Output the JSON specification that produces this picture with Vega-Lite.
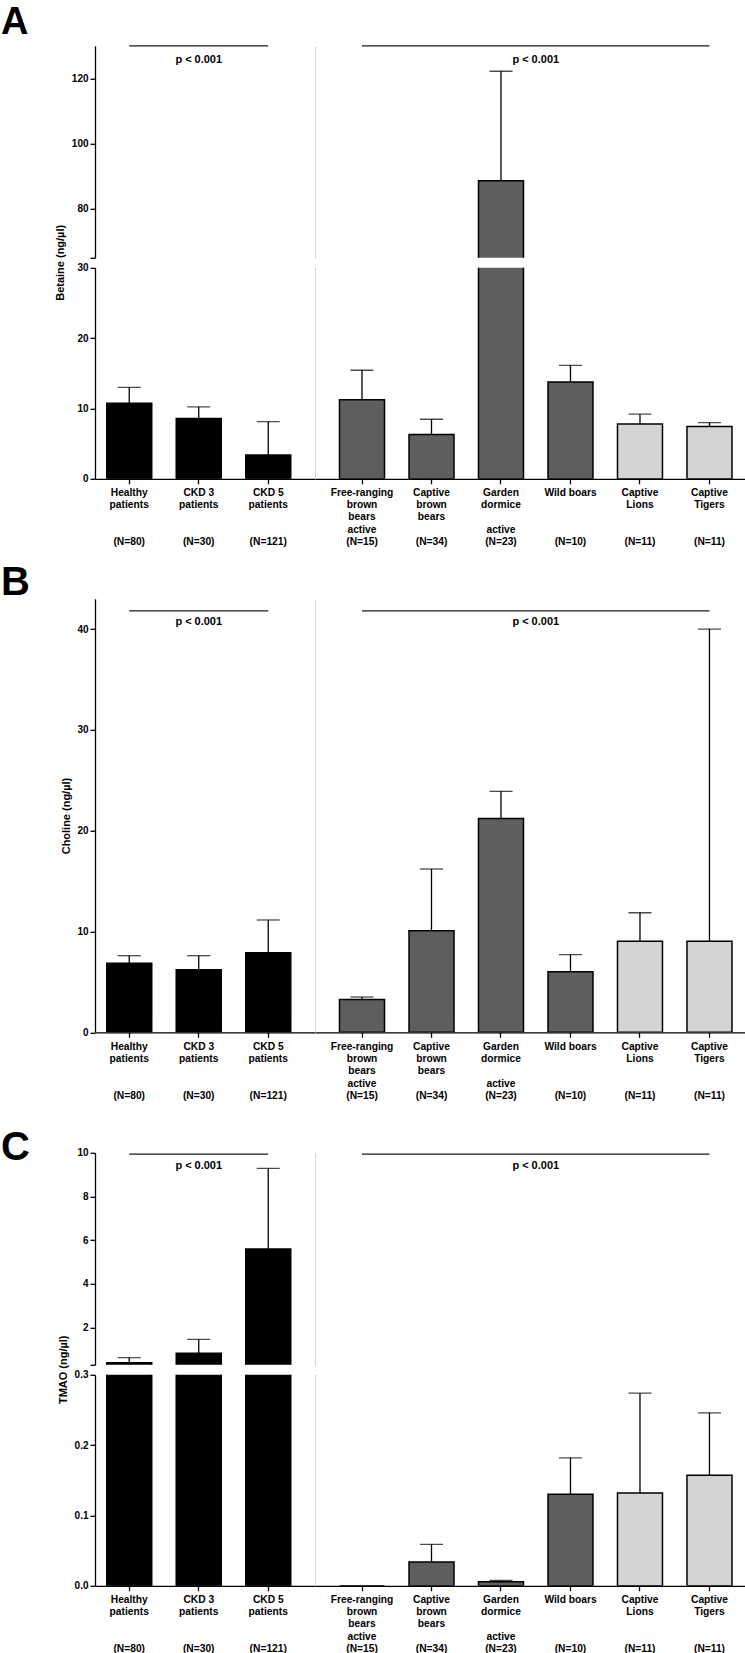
{
"$schema":"https://vega.github.io/schema/vega-lite/v6.json",
"padding":{"left":1,"top":3.8,"right":0,"bottom":0},
"background":"white",
"config":{"view":{"stroke":null},"font":"Liberation Sans",
 "axis":{"labelFont":"Liberation Sans","labelFontWeight":"bold","labelFontSize":10,"labelColor":"black","titleFont":"Liberation Sans","titleFontWeight":"bold","titleFontSize":11,"titleColor":"black","domainColor":"black","domainWidth":1.3,"tickColor":"black","tickWidth":1.3,"tickSize":5,"labelPadding":2,"grid":false}},
"datasets":{
 "bars":[
  {"panel":"A","side":"L","cat":"Healthy|patients##(N=80)","kind":"human","value":10.75,"upper":13.0},
  {"panel":"A","side":"L","cat":"CKD 3|patients##(N=30)","kind":"human","value":8.57,"upper":10.23},
  {"panel":"A","side":"L","cat":"CKD 5|patients##(N=121)","kind":"human","value":3.37,"upper":8.14},
  {"panel":"A","side":"R","cat":"Free-ranging|brown|bears#active#(N=15)","kind":"animal","value":11.23,"upper":15.43},
  {"panel":"A","side":"R","cat":"Captive|brown|bears##(N=34)","kind":"animal","value":6.29,"upper":8.47},
  {"panel":"A","side":"R","cat":"Garden|dormice#active#(N=23)","kind":"animal","value":88.6,"upper":122.2},
  {"panel":"A","side":"R","cat":"Wild boars##(N=10)","kind":"animal","value":13.76,"upper":16.14},
  {"panel":"A","side":"R","cat":"Captive|Lions##(N=11)","kind":"felid","value":7.8,"upper":9.19},
  {"panel":"A","side":"R","cat":"Captive|Tigers##(N=11)","kind":"felid","value":7.43,"upper":8.0},
  {"panel":"B","side":"L","cat":"Healthy|patients##(N=80)","kind":"human","value":6.85,"upper":7.6},
  {"panel":"B","side":"L","cat":"CKD 3|patients##(N=30)","kind":"human","value":6.2,"upper":7.6},
  {"panel":"B","side":"L","cat":"CKD 5|patients##(N=121)","kind":"human","value":7.9,"upper":11.14},
  {"panel":"B","side":"R","cat":"Free-ranging|brown|bears#active#(N=15)","kind":"animal","value":3.25,"upper":3.5},
  {"panel":"B","side":"R","cat":"Captive|brown|bears##(N=34)","kind":"animal","value":10.08,"upper":16.2},
  {"panel":"B","side":"R","cat":"Garden|dormice#active#(N=23)","kind":"animal","value":21.2,"upper":23.9},
  {"panel":"B","side":"R","cat":"Wild boars##(N=10)","kind":"animal","value":6.0,"upper":7.7},
  {"panel":"B","side":"R","cat":"Captive|Lions##(N=11)","kind":"felid","value":9.03,"upper":11.86},
  {"panel":"B","side":"R","cat":"Captive|Tigers##(N=11)","kind":"felid","value":9.03,"upper":40.0},
  {"panel":"C","side":"L","cat":"Healthy|patients##(N=80)","kind":"human","value":0.39,"upper":0.63},
  {"panel":"C","side":"L","cat":"CKD 3|patients##(N=30)","kind":"human","value":0.83,"upper":1.46},
  {"panel":"C","side":"L","cat":"CKD 5|patients##(N=121)","kind":"human","value":5.6,"upper":9.29},
  {"panel":"C","side":"R","cat":"Free-ranging|brown|bears#active#(N=15)","kind":"animal","value":0,"upper":null},
  {"panel":"C","side":"R","cat":"Captive|brown|bears##(N=34)","kind":"animal","value":0.034,"upper":0.059},
  {"panel":"C","side":"R","cat":"Garden|dormice#active#(N=23)","kind":"animal","value":0.0057,"upper":0.0075},
  {"panel":"C","side":"R","cat":"Wild boars##(N=10)","kind":"animal","value":0.13,"upper":0.182},
  {"panel":"C","side":"R","cat":"Captive|Lions##(N=11)","kind":"felid","value":0.132,"upper":0.274},
  {"panel":"C","side":"R","cat":"Captive|Tigers##(N=11)","kind":"felid","value":0.157,"upper":0.246}
 ],
 "ann":[
  {"panel":"A","side":"L","from":"Healthy|patients##(N=80)","to":"CKD 5|patients##(N=121)","mid":"CKD 3|patients##(N=30)","ly":130,"ty":125.7,"label":"p < 0.001"},
  {"panel":"A","side":"R","from":"Free-ranging|brown|bears#active#(N=15)","to":"Captive|Tigers##(N=11)","mid":"Garden|dormice#active#(N=23)","ly":130,"ty":125.7,"label":"p < 0.001"},
  {"panel":"B","side":"L","from":"Healthy|patients##(N=80)","to":"CKD 5|patients##(N=121)","mid":"CKD 3|patients##(N=30)","ly":41.8,"ty":40.7,"label":"p < 0.001"},
  {"panel":"B","side":"R","from":"Free-ranging|brown|bears#active#(N=15)","to":"Captive|Tigers##(N=11)","mid":"Garden|dormice#active#(N=23)","ly":41.8,"ty":40.7,"label":"p < 0.001"},
  {"panel":"C","side":"L","from":"Healthy|patients##(N=80)","to":"CKD 5|patients##(N=121)","mid":"CKD 3|patients##(N=30)","ly":9.94,"ty":9.4,"label":"p < 0.001"},
  {"panel":"C","side":"R","from":"Free-ranging|brown|bears#active#(N=15)","to":"Captive|Tigers##(N=11)","mid":"Garden|dormice#active#(N=23)","ly":9.94,"ty":9.4,"label":"p < 0.001"}
 ]
},
"spacing":15,
"vconcat":[
 {"concat":[
  {"width":220,"height":212,
   "title":{"text":"A","anchor":"start","frame":"group","dx":-94,"offset":-27,"fontSize":38,"fontWeight":"bold","font":"Liberation Sans","color":"black","baseline":"alphabetic"},
   "resolve":{"axis":{"x":"independent","y":"independent"}},
   "layer":[
    {"data":{"name":"bars"},"transform":[{"filter":"datum.panel == 'A' && datum.side == 'L'"}],
     "mark":{"type":"bar","clip":true,"stroke":"black","strokeWidth":1.5},
     "encoding":{"x":{"field":"cat","type":"nominal","scale":{"domain":["Healthy|patients##(N=80)","CKD 3|patients##(N=30)","CKD 5|patients##(N=121)"],"paddingInner":0.3525,"paddingOuter":0.259,"align":0.326},"axis":null},
      "y":{"field":"value","type":"quantitative","scale":{"domain":[65,130],"nice":false,"zero":false},"axis":{"values":[65,80,100,120],"labelExpr":"datum.value == 65 ? '' : datum.label","title":"Betaine (ng/µl)","titleX":-34.5,"titleY":216.5,"titleAngle":-90,"titleAlign":"center","titleBaseline":"middle"}},
      "y2":{"datum":0},
      "color":{"field":"kind","type":"nominal","scale":{"domain":["human","animal","felid"],"range":["#000000","#5e5e5e","#d4d4d4"]},"legend":null}}},
    {"data":{"name":"bars"},"transform":[{"filter":"datum.panel == 'A' && datum.side == 'L' && isValid(datum.upper)"}],
     "mark":{"type":"rule","clip":true,"color":"black","strokeWidth":1.3},
     "encoding":{"x":{"field":"cat","type":"nominal","scale":{"domain":["Healthy|patients##(N=80)","CKD 3|patients##(N=30)","CKD 5|patients##(N=121)"],"paddingInner":0.3525,"paddingOuter":0.259,"align":0.326},"axis":null},
      "y":{"field":"value","type":"quantitative","scale":{"domain":[65,130],"nice":false,"zero":false},"axis":null},"y2":{"field":"upper"}}},
    {"data":{"name":"bars"},"transform":[{"filter":"datum.panel == 'A' && datum.side == 'L' && isValid(datum.upper)"}],
     "mark":{"type":"tick","clip":true,"color":"black","size":23,"thickness":1.3},
     "encoding":{"x":{"field":"cat","type":"nominal","scale":{"domain":["Healthy|patients##(N=80)","CKD 3|patients##(N=30)","CKD 5|patients##(N=121)"],"paddingInner":0.3525,"paddingOuter":0.259,"align":0.326},"axis":null},
      "y":{"field":"upper","type":"quantitative","scale":{"domain":[65,130],"nice":false,"zero":false},"axis":null}}},
    {"data":{"name":"ann"},"transform":[{"filter":"datum.panel == 'A' && datum.side == 'L'"}],
     "mark":{"type":"rule","color":"#1a1a1a","strokeWidth":1.3},
     "encoding":{"x":{"field":"from","type":"nominal","scale":{"domain":["Healthy|patients##(N=80)","CKD 3|patients##(N=30)","CKD 5|patients##(N=121)"],"paddingInner":0.3525,"paddingOuter":0.259,"align":0.326},"axis":null},"x2":{"field":"to"},
      "y":{"field":"ly","type":"quantitative","scale":{"domain":[65,130],"nice":false,"zero":false},"axis":null}}},
    {"data":{"name":"ann"},"transform":[{"filter":"datum.panel == 'A' && datum.side == 'L'"}],
     "mark":{"type":"text","font":"Liberation Sans","fontWeight":"bold","fontSize":11,"baseline":"middle","align":"center","color":"black"},
     "encoding":{"x":{"field":"mid","type":"nominal","scale":{"domain":["Healthy|patients##(N=80)","CKD 3|patients##(N=30)","CKD 5|patients##(N=121)"],"paddingInner":0.3525,"paddingOuter":0.259,"align":0.326},"axis":null},
      "y":{"field":"ty","type":"quantitative","scale":{"domain":[65,130],"nice":false,"zero":false},"axis":null},"text":{"field":"label"}}}
   ]},
  {"width":430,"height":212,
   "resolve":{"axis":{"x":"independent","y":"independent"}},
   "layer":[
    {"data":{"name":"bars"},"transform":[{"filter":"datum.panel == 'A' && datum.side == 'R'"}],
     "mark":{"type":"bar","clip":true,"stroke":"black","strokeWidth":1.5},
     "encoding":{"x":{"field":"cat","type":"nominal","scale":{"domain":["Free-ranging|brown|bears#active#(N=15)","Captive|brown|bears##(N=34)","Garden|dormice#active#(N=23)","Wild boars##(N=10)","Captive|Lions##(N=11)","Captive|Tigers##(N=11)"],"paddingInner":0.3525,"paddingOuter":0.27,"align":0.653},"axis":null},
      "y":{"field":"value","type":"quantitative","scale":{"domain":[65,130],"nice":false,"zero":false},"axis":{"domainColor":"#a8a8a8","domainDash":[1,1],"domainWidth":1,"ticks":false,"labels":false,"title":null}},
      "y2":{"datum":0},
      "color":{"field":"kind","type":"nominal","scale":{"domain":["human","animal","felid"],"range":["#000000","#5e5e5e","#d4d4d4"]},"legend":null}}},
    {"data":{"name":"bars"},"transform":[{"filter":"datum.panel == 'A' && datum.side == 'R' && isValid(datum.upper)"}],
     "mark":{"type":"rule","clip":true,"color":"black","strokeWidth":1.3},
     "encoding":{"x":{"field":"cat","type":"nominal","scale":{"domain":["Free-ranging|brown|bears#active#(N=15)","Captive|brown|bears##(N=34)","Garden|dormice#active#(N=23)","Wild boars##(N=10)","Captive|Lions##(N=11)","Captive|Tigers##(N=11)"],"paddingInner":0.3525,"paddingOuter":0.27,"align":0.653},"axis":null},
      "y":{"field":"value","type":"quantitative","scale":{"domain":[65,130],"nice":false,"zero":false},"axis":null},"y2":{"field":"upper"}}},
    {"data":{"name":"bars"},"transform":[{"filter":"datum.panel == 'A' && datum.side == 'R' && isValid(datum.upper)"}],
     "mark":{"type":"tick","clip":true,"color":"black","size":23,"thickness":1.3},
     "encoding":{"x":{"field":"cat","type":"nominal","scale":{"domain":["Free-ranging|brown|bears#active#(N=15)","Captive|brown|bears##(N=34)","Garden|dormice#active#(N=23)","Wild boars##(N=10)","Captive|Lions##(N=11)","Captive|Tigers##(N=11)"],"paddingInner":0.3525,"paddingOuter":0.27,"align":0.653},"axis":null},
      "y":{"field":"upper","type":"quantitative","scale":{"domain":[65,130],"nice":false,"zero":false},"axis":null}}},
    {"data":{"name":"ann"},"transform":[{"filter":"datum.panel == 'A' && datum.side == 'R'"}],
     "mark":{"type":"rule","color":"#1a1a1a","strokeWidth":1.3},
     "encoding":{"x":{"field":"from","type":"nominal","scale":{"domain":["Free-ranging|brown|bears#active#(N=15)","Captive|brown|bears##(N=34)","Garden|dormice#active#(N=23)","Wild boars##(N=10)","Captive|Lions##(N=11)","Captive|Tigers##(N=11)"],"paddingInner":0.3525,"paddingOuter":0.27,"align":0.653},"axis":null},"x2":{"field":"to"},
      "y":{"field":"ly","type":"quantitative","scale":{"domain":[65,130],"nice":false,"zero":false},"axis":null}}},
    {"data":{"name":"ann"},"transform":[{"filter":"datum.panel == 'A' && datum.side == 'R'"}],
     "mark":{"type":"text","font":"Liberation Sans","fontWeight":"bold","fontSize":11,"baseline":"middle","align":"center","color":"black","dx":34.75},
     "encoding":{"x":{"field":"mid","type":"nominal","scale":{"domain":["Free-ranging|brown|bears#active#(N=15)","Captive|brown|bears##(N=34)","Garden|dormice#active#(N=23)","Wild boars##(N=10)","Captive|Lions##(N=11)","Captive|Tigers##(N=11)"],"paddingInner":0.3525,"paddingOuter":0.27,"align":0.653},"axis":null},
      "y":{"field":"ty","type":"quantitative","scale":{"domain":[65,130],"nice":false,"zero":false},"axis":null},"text":{"field":"label"}}}
   ]},
  {"width":220,"height":211,
   "resolve":{"axis":{"x":"independent","y":"independent"}},
   "layer":[
    {"data":{"name":"bars"},"transform":[{"filter":"datum.panel == 'A' && datum.side == 'L'"}],
     "mark":{"type":"bar","clip":true,"stroke":"black","strokeWidth":1.5},
     "encoding":{"x":{"field":"cat","type":"nominal","scale":{"domain":["Healthy|patients##(N=80)","CKD 3|patients##(N=30)","CKD 5|patients##(N=121)"],"paddingInner":0.3525,"paddingOuter":0.259,"align":0.326},"axis":{"title":null,"labelExpr":"split(split(datum.label, '#')[0], '|')","labelAngle":0,"labelFontSize":10.25,"labelLineHeight":12,"labelPadding":4,"labelBaseline":"top","labelAlign":"center","labelLimit":0,"tickSize":5}},
      "y":{"field":"value","type":"quantitative","scale":{"domain":[0,30],"nice":false,"zero":false},"axis":{"values":[0,10,20,30],"format":"d","title":null}},
      "y2":{"datum":0},
      "color":{"field":"kind","type":"nominal","scale":{"domain":["human","animal","felid"],"range":["#000000","#5e5e5e","#d4d4d4"]},"legend":null}}},
    {"data":{"name":"bars"},"transform":[{"filter":"datum.panel == 'A' && datum.side == 'L' && isValid(datum.upper)"}],
     "mark":{"type":"rule","clip":true,"color":"black","strokeWidth":1.3},
     "encoding":{"x":{"field":"cat","type":"nominal","scale":{"domain":["Healthy|patients##(N=80)","CKD 3|patients##(N=30)","CKD 5|patients##(N=121)"],"paddingInner":0.3525,"paddingOuter":0.259,"align":0.326},"axis":{"orient":"bottom","domain":false,"ticks":false,"title":null,"labelExpr":"split(datum.label, '#')[1]","labelAngle":0,"labelFontSize":10.25,"labelPadding":46,"labelBaseline":"top","labelAlign":"center","labelLimit":0}},
      "y":{"field":"value","type":"quantitative","scale":{"domain":[0,30],"nice":false,"zero":false},"axis":null},"y2":{"field":"upper"}}},
    {"data":{"name":"bars"},"transform":[{"filter":"datum.panel == 'A' && datum.side == 'L' && isValid(datum.upper)"}],
     "mark":{"type":"tick","clip":true,"color":"black","size":23,"thickness":1.3},
     "encoding":{"x":{"field":"cat","type":"nominal","scale":{"domain":["Healthy|patients##(N=80)","CKD 3|patients##(N=30)","CKD 5|patients##(N=121)"],"paddingInner":0.3525,"paddingOuter":0.259,"align":0.326},"axis":{"orient":"bottom","domain":false,"ticks":false,"title":null,"labelExpr":"split(datum.label, '#')[2]","labelAngle":0,"labelFontSize":10.25,"labelPadding":58,"labelBaseline":"top","labelAlign":"center","labelLimit":0}},
      "y":{"field":"upper","type":"quantitative","scale":{"domain":[0,30],"nice":false,"zero":false},"axis":null}}}
   ]},
  {"width":430,"height":211,
   "resolve":{"axis":{"x":"independent","y":"independent"}},
   "layer":[
    {"data":{"name":"bars"},"transform":[{"filter":"datum.panel == 'A' && datum.side == 'R'"}],
     "mark":{"type":"bar","clip":true,"stroke":"black","strokeWidth":1.5},
     "encoding":{"x":{"field":"cat","type":"nominal","scale":{"domain":["Free-ranging|brown|bears#active#(N=15)","Captive|brown|bears##(N=34)","Garden|dormice#active#(N=23)","Wild boars##(N=10)","Captive|Lions##(N=11)","Captive|Tigers##(N=11)"],"paddingInner":0.3525,"paddingOuter":0.27,"align":0.653},"axis":{"title":null,"labelExpr":"split(split(datum.label, '#')[0], '|')","labelAngle":0,"labelFontSize":10.25,"labelLineHeight":12,"labelPadding":4,"labelBaseline":"top","labelAlign":"center","labelLimit":0,"tickSize":5}},
      "y":{"field":"value","type":"quantitative","scale":{"domain":[0,30],"nice":false,"zero":false},"axis":{"domainColor":"#a8a8a8","domainDash":[1,1],"domainWidth":1,"ticks":false,"labels":false,"title":null}},
      "y2":{"datum":0},
      "color":{"field":"kind","type":"nominal","scale":{"domain":["human","animal","felid"],"range":["#000000","#5e5e5e","#d4d4d4"]},"legend":null}}},
    {"data":{"name":"bars"},"transform":[{"filter":"datum.panel == 'A' && datum.side == 'R' && isValid(datum.upper)"}],
     "mark":{"type":"rule","clip":true,"color":"black","strokeWidth":1.3},
     "encoding":{"x":{"field":"cat","type":"nominal","scale":{"domain":["Free-ranging|brown|bears#active#(N=15)","Captive|brown|bears##(N=34)","Garden|dormice#active#(N=23)","Wild boars##(N=10)","Captive|Lions##(N=11)","Captive|Tigers##(N=11)"],"paddingInner":0.3525,"paddingOuter":0.27,"align":0.653},"axis":{"orient":"bottom","domain":false,"ticks":false,"title":null,"labelExpr":"split(datum.label, '#')[1]","labelAngle":0,"labelFontSize":10.25,"labelPadding":46,"labelBaseline":"top","labelAlign":"center","labelLimit":0}},
      "y":{"field":"value","type":"quantitative","scale":{"domain":[0,30],"nice":false,"zero":false},"axis":null},"y2":{"field":"upper"}}},
    {"data":{"name":"bars"},"transform":[{"filter":"datum.panel == 'A' && datum.side == 'R' && isValid(datum.upper)"}],
     "mark":{"type":"tick","clip":true,"color":"black","size":23,"thickness":1.3},
     "encoding":{"x":{"field":"cat","type":"nominal","scale":{"domain":["Free-ranging|brown|bears#active#(N=15)","Captive|brown|bears##(N=34)","Garden|dormice#active#(N=23)","Wild boars##(N=10)","Captive|Lions##(N=11)","Captive|Tigers##(N=11)"],"paddingInner":0.3525,"paddingOuter":0.27,"align":0.653},"axis":{"orient":"bottom","domain":false,"ticks":false,"title":null,"labelExpr":"split(datum.label, '#')[2]","labelAngle":0,"labelFontSize":10.25,"labelPadding":58,"labelBaseline":"top","labelAlign":"center","labelLimit":0}},
      "y":{"field":"upper","type":"quantitative","scale":{"domain":[0,30],"nice":false,"zero":false},"axis":null}}}
   ]}
 ],"columns":2,"spacing":{"row":10,"column":0},"bounds":"flush","align":"each"},
 {"spacing":27,
  "vconcat":[
  {"concat":[
   {"width":220,"height":433.5,
    "title":{"text":"B","anchor":"start","frame":"group","dx":-94,"offset":-36,"fontSize":40,"fontWeight":"bold","font":"Liberation Sans","color":"black","baseline":"alphabetic"},
    "resolve":{"axis":{"x":"independent","y":"independent"}},
    "layer":[
     {"data":{"name":"bars"},"transform":[{"filter":"datum.panel == 'B' && datum.side == 'L'"}],
      "mark":{"type":"bar","clip":true,"stroke":"black","strokeWidth":1.5},
      "encoding":{"x":{"field":"cat","type":"nominal","scale":{"domain":["Healthy|patients##(N=80)","CKD 3|patients##(N=30)","CKD 5|patients##(N=121)"],"paddingInner":0.3525,"paddingOuter":0.259,"align":0.326},"axis":{"title":null,"labelExpr":"split(split(datum.label, '#')[0], '|')","labelAngle":0,"labelFontSize":10.25,"labelLineHeight":12,"labelPadding":4,"labelBaseline":"top","labelAlign":"center","labelLimit":0,"tickSize":5}},
       "y":{"field":"value","type":"quantitative","scale":{"domain":[0,43],"nice":false,"zero":false},"axis":{"values":[0,10,20,30,40],"format":"d","title":"Choline (ng/µl)","titleX":-28.5,"titleY":216.75,"titleAngle":-90,"titleAlign":"center","titleBaseline":"middle"}},
       "y2":{"datum":0},
       "color":{"field":"kind","type":"nominal","scale":{"domain":["human","animal","felid"],"range":["#000000","#5e5e5e","#d4d4d4"]},"legend":null}}},
     {"data":{"name":"bars"},"transform":[{"filter":"datum.panel == 'B' && datum.side == 'L' && isValid(datum.upper)"}],
      "mark":{"type":"rule","clip":true,"color":"black","strokeWidth":1.3},
      "encoding":{"x":{"field":"cat","type":"nominal","scale":{"domain":["Healthy|patients##(N=80)","CKD 3|patients##(N=30)","CKD 5|patients##(N=121)"],"paddingInner":0.3525,"paddingOuter":0.259,"align":0.326},"axis":{"orient":"bottom","domain":false,"ticks":false,"title":null,"labelExpr":"split(datum.label, '#')[1]","labelAngle":0,"labelFontSize":10.25,"labelPadding":46,"labelBaseline":"top","labelAlign":"center","labelLimit":0}},
       "y":{"field":"value","type":"quantitative","scale":{"domain":[0,43],"nice":false,"zero":false},"axis":null},"y2":{"field":"upper"}}},
     {"data":{"name":"bars"},"transform":[{"filter":"datum.panel == 'B' && datum.side == 'L' && isValid(datum.upper)"}],
      "mark":{"type":"tick","clip":true,"color":"black","size":23,"thickness":1.3},
      "encoding":{"x":{"field":"cat","type":"nominal","scale":{"domain":["Healthy|patients##(N=80)","CKD 3|patients##(N=30)","CKD 5|patients##(N=121)"],"paddingInner":0.3525,"paddingOuter":0.259,"align":0.326},"axis":{"orient":"bottom","domain":false,"ticks":false,"title":null,"labelExpr":"split(datum.label, '#')[2]","labelAngle":0,"labelFontSize":10.25,"labelPadding":58,"labelBaseline":"top","labelAlign":"center","labelLimit":0}},
       "y":{"field":"upper","type":"quantitative","scale":{"domain":[0,43],"nice":false,"zero":false},"axis":null}}},
     {"data":{"name":"ann"},"transform":[{"filter":"datum.panel == 'B' && datum.side == 'L'"}],
      "mark":{"type":"rule","color":"#1a1a1a","strokeWidth":1.3},
      "encoding":{"x":{"field":"from","type":"nominal","scale":{"domain":["Healthy|patients##(N=80)","CKD 3|patients##(N=30)","CKD 5|patients##(N=121)"],"paddingInner":0.3525,"paddingOuter":0.259,"align":0.326},"axis":null},"x2":{"field":"to"},
       "y":{"field":"ly","type":"quantitative","scale":{"domain":[0,43],"nice":false,"zero":false},"axis":null}}},
     {"data":{"name":"ann"},"transform":[{"filter":"datum.panel == 'B' && datum.side == 'L'"}],
      "mark":{"type":"text","font":"Liberation Sans","fontWeight":"bold","fontSize":11,"baseline":"middle","align":"center","color":"black"},
      "encoding":{"x":{"field":"mid","type":"nominal","scale":{"domain":["Healthy|patients##(N=80)","CKD 3|patients##(N=30)","CKD 5|patients##(N=121)"],"paddingInner":0.3525,"paddingOuter":0.259,"align":0.326},"axis":null},
       "y":{"field":"ty","type":"quantitative","scale":{"domain":[0,43],"nice":false,"zero":false},"axis":null},"text":{"field":"label"}}}
    ]},
   {"width":430,"height":433.5,
    "resolve":{"axis":{"x":"independent","y":"independent"}},
    "layer":[
     {"data":{"name":"bars"},"transform":[{"filter":"datum.panel == 'B' && datum.side == 'R'"}],
      "mark":{"type":"bar","clip":true,"stroke":"black","strokeWidth":1.5},
      "encoding":{"x":{"field":"cat","type":"nominal","scale":{"domain":["Free-ranging|brown|bears#active#(N=15)","Captive|brown|bears##(N=34)","Garden|dormice#active#(N=23)","Wild boars##(N=10)","Captive|Lions##(N=11)","Captive|Tigers##(N=11)"],"paddingInner":0.3525,"paddingOuter":0.27,"align":0.653},"axis":{"title":null,"labelExpr":"split(split(datum.label, '#')[0], '|')","labelAngle":0,"labelFontSize":10.25,"labelLineHeight":12,"labelPadding":4,"labelBaseline":"top","labelAlign":"center","labelLimit":0,"tickSize":5}},
       "y":{"field":"value","type":"quantitative","scale":{"domain":[0,43],"nice":false,"zero":false},"axis":{"domainColor":"#a8a8a8","domainDash":[1,1],"domainWidth":1,"ticks":false,"labels":false,"title":null}},
       "y2":{"datum":0},
       "color":{"field":"kind","type":"nominal","scale":{"domain":["human","animal","felid"],"range":["#000000","#5e5e5e","#d4d4d4"]},"legend":null}}},
     {"data":{"name":"bars"},"transform":[{"filter":"datum.panel == 'B' && datum.side == 'R' && isValid(datum.upper)"}],
      "mark":{"type":"rule","clip":true,"color":"black","strokeWidth":1.3},
      "encoding":{"x":{"field":"cat","type":"nominal","scale":{"domain":["Free-ranging|brown|bears#active#(N=15)","Captive|brown|bears##(N=34)","Garden|dormice#active#(N=23)","Wild boars##(N=10)","Captive|Lions##(N=11)","Captive|Tigers##(N=11)"],"paddingInner":0.3525,"paddingOuter":0.27,"align":0.653},"axis":{"orient":"bottom","domain":false,"ticks":false,"title":null,"labelExpr":"split(datum.label, '#')[1]","labelAngle":0,"labelFontSize":10.25,"labelPadding":46,"labelBaseline":"top","labelAlign":"center","labelLimit":0}},
       "y":{"field":"value","type":"quantitative","scale":{"domain":[0,43],"nice":false,"zero":false},"axis":null},"y2":{"field":"upper"}}},
     {"data":{"name":"bars"},"transform":[{"filter":"datum.panel == 'B' && datum.side == 'R' && isValid(datum.upper)"}],
      "mark":{"type":"tick","clip":true,"color":"black","size":23,"thickness":1.3},
      "encoding":{"x":{"field":"cat","type":"nominal","scale":{"domain":["Free-ranging|brown|bears#active#(N=15)","Captive|brown|bears##(N=34)","Garden|dormice#active#(N=23)","Wild boars##(N=10)","Captive|Lions##(N=11)","Captive|Tigers##(N=11)"],"paddingInner":0.3525,"paddingOuter":0.27,"align":0.653},"axis":{"orient":"bottom","domain":false,"ticks":false,"title":null,"labelExpr":"split(datum.label, '#')[2]","labelAngle":0,"labelFontSize":10.25,"labelPadding":58,"labelBaseline":"top","labelAlign":"center","labelLimit":0}},
       "y":{"field":"upper","type":"quantitative","scale":{"domain":[0,43],"nice":false,"zero":false},"axis":null}}},
     {"data":{"name":"ann"},"transform":[{"filter":"datum.panel == 'B' && datum.side == 'R'"}],
      "mark":{"type":"rule","color":"#1a1a1a","strokeWidth":1.3},
      "encoding":{"x":{"field":"from","type":"nominal","scale":{"domain":["Free-ranging|brown|bears#active#(N=15)","Captive|brown|bears##(N=34)","Garden|dormice#active#(N=23)","Wild boars##(N=10)","Captive|Lions##(N=11)","Captive|Tigers##(N=11)"],"paddingInner":0.3525,"paddingOuter":0.27,"align":0.653},"axis":null},"x2":{"field":"to"},
       "y":{"field":"ly","type":"quantitative","scale":{"domain":[0,43],"nice":false,"zero":false},"axis":null}}},
     {"data":{"name":"ann"},"transform":[{"filter":"datum.panel == 'B' && datum.side == 'R'"}],
      "mark":{"type":"text","font":"Liberation Sans","fontWeight":"bold","fontSize":11,"baseline":"middle","align":"center","color":"black","dx":34.75},
      "encoding":{"x":{"field":"mid","type":"nominal","scale":{"domain":["Free-ranging|brown|bears#active#(N=15)","Captive|brown|bears##(N=34)","Garden|dormice#active#(N=23)","Wild boars##(N=10)","Captive|Lions##(N=11)","Captive|Tigers##(N=11)"],"paddingInner":0.3525,"paddingOuter":0.27,"align":0.653},"axis":null},
       "y":{"field":"ty","type":"quantitative","scale":{"domain":[0,43],"nice":false,"zero":false},"axis":null},"text":{"field":"label"}}}
    ]}
  ],"columns":2,"spacing":{"row":10,"column":0},"bounds":"flush","align":"each"},
  {"concat":[
   {"width":220,"height":212,
    "title":{"text":"C","anchor":"start","frame":"group","dx":-94,"offset":-52.5,"fontSize":40,"fontWeight":"bold","font":"Liberation Sans","color":"black","baseline":"alphabetic"},
    "resolve":{"axis":{"x":"independent","y":"independent"}},
    "layer":[
     {"data":{"name":"bars"},"transform":[{"filter":"datum.panel == 'C' && datum.side == 'L'"}],
      "mark":{"type":"bar","clip":true,"stroke":"black","strokeWidth":1.5},
      "encoding":{"x":{"field":"cat","type":"nominal","scale":{"domain":["Healthy|patients##(N=80)","CKD 3|patients##(N=30)","CKD 5|patients##(N=121)"],"paddingInner":0.3525,"paddingOuter":0.259,"align":0.326},"axis":null},
       "y":{"field":"value","type":"quantitative","scale":{"domain":[0.3,10],"nice":false,"zero":false},"axis":{"values":[0.3,2,4,6,8,10],"format":"d","labelExpr":"datum.value < 1 ? '' : datum.label","title":"TMAO (ng/µl)","titleX":-32,"titleY":216.5,"titleAngle":-90,"titleAlign":"center","titleBaseline":"middle"}},
       "y2":{"datum":0},
       "color":{"field":"kind","type":"nominal","scale":{"domain":["human","animal","felid"],"range":["#000000","#5e5e5e","#d4d4d4"]},"legend":null}}},
     {"data":{"name":"bars"},"transform":[{"filter":"datum.panel == 'C' && datum.side == 'L' && isValid(datum.upper)"}],
      "mark":{"type":"rule","clip":true,"color":"black","strokeWidth":1.3},
      "encoding":{"x":{"field":"cat","type":"nominal","scale":{"domain":["Healthy|patients##(N=80)","CKD 3|patients##(N=30)","CKD 5|patients##(N=121)"],"paddingInner":0.3525,"paddingOuter":0.259,"align":0.326},"axis":null},
       "y":{"field":"value","type":"quantitative","scale":{"domain":[0.3,10],"nice":false,"zero":false},"axis":null},"y2":{"field":"upper"}}},
     {"data":{"name":"bars"},"transform":[{"filter":"datum.panel == 'C' && datum.side == 'L' && isValid(datum.upper)"}],
      "mark":{"type":"tick","clip":true,"color":"black","size":23,"thickness":1.3},
      "encoding":{"x":{"field":"cat","type":"nominal","scale":{"domain":["Healthy|patients##(N=80)","CKD 3|patients##(N=30)","CKD 5|patients##(N=121)"],"paddingInner":0.3525,"paddingOuter":0.259,"align":0.326},"axis":null},
       "y":{"field":"upper","type":"quantitative","scale":{"domain":[0.3,10],"nice":false,"zero":false},"axis":null}}},
     {"data":{"name":"ann"},"transform":[{"filter":"datum.panel == 'C' && datum.side == 'L'"}],
      "mark":{"type":"rule","color":"#1a1a1a","strokeWidth":1.3},
      "encoding":{"x":{"field":"from","type":"nominal","scale":{"domain":["Healthy|patients##(N=80)","CKD 3|patients##(N=30)","CKD 5|patients##(N=121)"],"paddingInner":0.3525,"paddingOuter":0.259,"align":0.326},"axis":null},"x2":{"field":"to"},
       "y":{"field":"ly","type":"quantitative","scale":{"domain":[0.3,10],"nice":false,"zero":false},"axis":null}}},
     {"data":{"name":"ann"},"transform":[{"filter":"datum.panel == 'C' && datum.side == 'L'"}],
      "mark":{"type":"text","font":"Liberation Sans","fontWeight":"bold","fontSize":11,"baseline":"middle","align":"center","color":"black"},
      "encoding":{"x":{"field":"mid","type":"nominal","scale":{"domain":["Healthy|patients##(N=80)","CKD 3|patients##(N=30)","CKD 5|patients##(N=121)"],"paddingInner":0.3525,"paddingOuter":0.259,"align":0.326},"axis":null},
       "y":{"field":"ty","type":"quantitative","scale":{"domain":[0.3,10],"nice":false,"zero":false},"axis":null},"text":{"field":"label"}}}
    ]},
   {"width":430,"height":212,
    "resolve":{"axis":{"x":"independent","y":"independent"}},
    "layer":[
     {"data":{"name":"bars"},"transform":[{"filter":"datum.panel == 'C' && datum.side == 'R'"}],
      "mark":{"type":"bar","clip":true,"stroke":"black","strokeWidth":1.5},
      "encoding":{"x":{"field":"cat","type":"nominal","scale":{"domain":["Free-ranging|brown|bears#active#(N=15)","Captive|brown|bears##(N=34)","Garden|dormice#active#(N=23)","Wild boars##(N=10)","Captive|Lions##(N=11)","Captive|Tigers##(N=11)"],"paddingInner":0.3525,"paddingOuter":0.27,"align":0.653},"axis":null},
       "y":{"field":"value","type":"quantitative","scale":{"domain":[0.3,10],"nice":false,"zero":false},"axis":{"domainColor":"#a8a8a8","domainDash":[1,1],"domainWidth":1,"ticks":false,"labels":false,"title":null}},
       "y2":{"datum":0},
       "color":{"field":"kind","type":"nominal","scale":{"domain":["human","animal","felid"],"range":["#000000","#5e5e5e","#d4d4d4"]},"legend":null}}},
     {"data":{"name":"ann"},"transform":[{"filter":"datum.panel == 'C' && datum.side == 'R'"}],
      "mark":{"type":"rule","color":"#1a1a1a","strokeWidth":1.3},
      "encoding":{"x":{"field":"from","type":"nominal","scale":{"domain":["Free-ranging|brown|bears#active#(N=15)","Captive|brown|bears##(N=34)","Garden|dormice#active#(N=23)","Wild boars##(N=10)","Captive|Lions##(N=11)","Captive|Tigers##(N=11)"],"paddingInner":0.3525,"paddingOuter":0.27,"align":0.653},"axis":null},"x2":{"field":"to"},
       "y":{"field":"ly","type":"quantitative","scale":{"domain":[0.3,10],"nice":false,"zero":false},"axis":null}}},
     {"data":{"name":"ann"},"transform":[{"filter":"datum.panel == 'C' && datum.side == 'R'"}],
      "mark":{"type":"text","font":"Liberation Sans","fontWeight":"bold","fontSize":11,"baseline":"middle","align":"center","color":"black","dx":34.75},
      "encoding":{"x":{"field":"mid","type":"nominal","scale":{"domain":["Free-ranging|brown|bears#active#(N=15)","Captive|brown|bears##(N=34)","Garden|dormice#active#(N=23)","Wild boars##(N=10)","Captive|Lions##(N=11)","Captive|Tigers##(N=11)"],"paddingInner":0.3525,"paddingOuter":0.27,"align":0.653},"axis":null},
       "y":{"field":"ty","type":"quantitative","scale":{"domain":[0.3,10],"nice":false,"zero":false},"axis":null},"text":{"field":"label"}}}
    ]},
   {"width":220,"height":211,
    "resolve":{"axis":{"x":"independent","y":"independent"}},
    "layer":[
     {"data":{"name":"bars"},"transform":[{"filter":"datum.panel == 'C' && datum.side == 'L'"}],
      "mark":{"type":"bar","clip":true,"stroke":"black","strokeWidth":1.5},
      "encoding":{"x":{"field":"cat","type":"nominal","scale":{"domain":["Healthy|patients##(N=80)","CKD 3|patients##(N=30)","CKD 5|patients##(N=121)"],"paddingInner":0.3525,"paddingOuter":0.259,"align":0.326},"axis":{"title":null,"labelExpr":"split(split(datum.label, '#')[0], '|')","labelAngle":0,"labelFontSize":10.25,"labelLineHeight":12,"labelPadding":4,"labelBaseline":"top","labelAlign":"center","labelLimit":0,"tickSize":5}},
       "y":{"field":"value","type":"quantitative","scale":{"domain":[0,0.3],"nice":false,"zero":false},"axis":{"values":[0,0.1,0.2,0.3],"format":".1f","title":null}},
       "y2":{"datum":0},
       "color":{"field":"kind","type":"nominal","scale":{"domain":["human","animal","felid"],"range":["#000000","#5e5e5e","#d4d4d4"]},"legend":null}}},
     {"data":{"name":"bars"},"transform":[{"filter":"datum.panel == 'C' && datum.side == 'L' && isValid(datum.upper)"}],
      "mark":{"type":"rule","clip":true,"color":"black","strokeWidth":1.3},
      "encoding":{"x":{"field":"cat","type":"nominal","scale":{"domain":["Healthy|patients##(N=80)","CKD 3|patients##(N=30)","CKD 5|patients##(N=121)"],"paddingInner":0.3525,"paddingOuter":0.259,"align":0.326},"axis":{"orient":"bottom","domain":false,"ticks":false,"title":null,"labelExpr":"split(datum.label, '#')[1]","labelAngle":0,"labelFontSize":10.25,"labelPadding":46,"labelBaseline":"top","labelAlign":"center","labelLimit":0}},
       "y":{"field":"value","type":"quantitative","scale":{"domain":[0,0.3],"nice":false,"zero":false},"axis":null},"y2":{"field":"upper"}}},
     {"data":{"name":"bars"},"transform":[{"filter":"datum.panel == 'C' && datum.side == 'L' && isValid(datum.upper)"}],
      "mark":{"type":"tick","clip":true,"color":"black","size":23,"thickness":1.3},
      "encoding":{"x":{"field":"cat","type":"nominal","scale":{"domain":["Healthy|patients##(N=80)","CKD 3|patients##(N=30)","CKD 5|patients##(N=121)"],"paddingInner":0.3525,"paddingOuter":0.259,"align":0.326},"axis":{"orient":"bottom","domain":false,"ticks":false,"title":null,"labelExpr":"split(datum.label, '#')[2]","labelAngle":0,"labelFontSize":10.25,"labelPadding":58,"labelBaseline":"top","labelAlign":"center","labelLimit":0}},
       "y":{"field":"upper","type":"quantitative","scale":{"domain":[0,0.3],"nice":false,"zero":false},"axis":null}}}
    ]},
   {"width":430,"height":211,
    "resolve":{"axis":{"x":"independent","y":"independent"}},
    "layer":[
     {"data":{"name":"bars"},"transform":[{"filter":"datum.panel == 'C' && datum.side == 'R'"}],
      "mark":{"type":"bar","clip":true,"stroke":"black","strokeWidth":1.5},
      "encoding":{"x":{"field":"cat","type":"nominal","scale":{"domain":["Free-ranging|brown|bears#active#(N=15)","Captive|brown|bears##(N=34)","Garden|dormice#active#(N=23)","Wild boars##(N=10)","Captive|Lions##(N=11)","Captive|Tigers##(N=11)"],"paddingInner":0.3525,"paddingOuter":0.27,"align":0.653},"axis":{"title":null,"labelExpr":"split(split(datum.label, '#')[0], '|')","labelAngle":0,"labelFontSize":10.25,"labelLineHeight":12,"labelPadding":4,"labelBaseline":"top","labelAlign":"center","labelLimit":0,"tickSize":5}},
       "y":{"field":"value","type":"quantitative","scale":{"domain":[0,0.3],"nice":false,"zero":false},"axis":{"domainColor":"#a8a8a8","domainDash":[1,1],"domainWidth":1,"ticks":false,"labels":false,"title":null}},
       "y2":{"datum":0},
       "color":{"field":"kind","type":"nominal","scale":{"domain":["human","animal","felid"],"range":["#000000","#5e5e5e","#d4d4d4"]},"legend":null}}},
     {"data":{"name":"bars"},"transform":[{"filter":"datum.panel == 'C' && datum.side == 'R' && isValid(datum.upper)"}],
      "mark":{"type":"rule","clip":true,"color":"black","strokeWidth":1.3},
      "encoding":{"x":{"field":"cat","type":"nominal","scale":{"domain":["Free-ranging|brown|bears#active#(N=15)","Captive|brown|bears##(N=34)","Garden|dormice#active#(N=23)","Wild boars##(N=10)","Captive|Lions##(N=11)","Captive|Tigers##(N=11)"],"paddingInner":0.3525,"paddingOuter":0.27,"align":0.653},"axis":{"orient":"bottom","domain":false,"ticks":false,"title":null,"labelExpr":"split(datum.label, '#')[1]","labelAngle":0,"labelFontSize":10.25,"labelPadding":46,"labelBaseline":"top","labelAlign":"center","labelLimit":0}},
       "y":{"field":"value","type":"quantitative","scale":{"domain":[0,0.3],"nice":false,"zero":false},"axis":null},"y2":{"field":"upper"}}},
     {"data":{"name":"bars"},"transform":[{"filter":"datum.panel == 'C' && datum.side == 'R' && isValid(datum.upper)"}],
      "mark":{"type":"tick","clip":true,"color":"black","size":23,"thickness":1.3},
      "encoding":{"x":{"field":"cat","type":"nominal","scale":{"domain":["Free-ranging|brown|bears#active#(N=15)","Captive|brown|bears##(N=34)","Garden|dormice#active#(N=23)","Wild boars##(N=10)","Captive|Lions##(N=11)","Captive|Tigers##(N=11)"],"paddingInner":0.3525,"paddingOuter":0.27,"align":0.653},"axis":{"orient":"bottom","domain":false,"ticks":false,"title":null,"labelExpr":"split(datum.label, '#')[2]","labelAngle":0,"labelFontSize":10.25,"labelPadding":58,"labelBaseline":"top","labelAlign":"center","labelLimit":0}},
       "y":{"field":"upper","type":"quantitative","scale":{"domain":[0,0.3],"nice":false,"zero":false},"axis":null}}}
    ]}
  ],"columns":2,"spacing":{"row":10,"column":0},"bounds":"flush","align":"each"}
 ]}
]
}
